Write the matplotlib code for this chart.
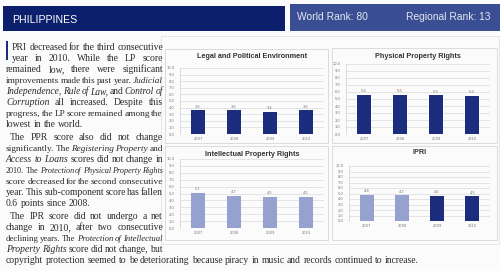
import matplotlib
matplotlib.use('Agg')
import matplotlib.pyplot as plt
from matplotlib.patches import Rectangle
import numpy as np

# scores
years = ['2007', '2008', '2009', '2010']
lp_scores = [3.6, 3.6, 3.4, 3.6]
ppr_scores = [5.6, 5.6, 5.5, 5.4]
ipr_scores = [5.1, 4.7, 4.5, 4.5]
ipri_scores = [4.8, 4.7, 4.6, 4.5]

world_rank = 80
regional_rank = 13

NAVY = '#1b2d7c'
LIGHT = '#95a2cf'
W, H = 500, 271

body = [
    ["PRI decreased for the third consecutive",
     "year in 2010. While the LP score",
     "remained low, there were significant",
     "improvements made this past year. *Judicial*",
     "*Independence*, *Rule of Law*, and *Control of*",
     "*Corruption* all increased. Despite this",
     "progress, the LP score remained among the",
     "lowest in the world."],
    ["The PPR score also did not change",
     "significantly. The *Registering Property* and",
     "*Access to Loans* scores did not change in",
     "2010. The *Protection of Physical Property Rights*",
     "score decreased for the second consecutive",
     "year. This sub-component score has fallen",
     "0.6 points since 2008."],
    ["The IPR score did not undergo a net",
     "change in 2010, after two consecutive",
     "declining years. The *Protection of Intellectual*",
     "*Property Rights* score did not change, but",
     "copyright protection seemed to be deteriorating because piracy in music and records continued to increase."],
]

fig = plt.figure(figsize=(W / 100, H / 100), dpi=100)
fig.patch.set_facecolor('#fbfbfb')
renderer = fig.canvas.get_renderer()

page = fig.add_axes([0, 0, 1, 1])
page.set_xlim(0, W)
page.set_ylim(H, 0)
page.axis('off')


def fig_rect(x0, y0, x1, y1):
    return [x0 / W, 1 - y1 / H, (x1 - x0) / W, (y1 - y0) / H]


# header bands
page.add_patch(Rectangle((3, 6), 282, 25, color='#0c1f6c', lw=0))
page.add_patch(Rectangle((290, 4), 210, 27, color='#3a4f93', lw=0))
page.text(12, 20, 'PHILIPPINES', color='white', fontsize=7.6,
          family='Liberation Sans', va='center')
page.text(297, 17, 'World Rank: %d' % world_rank, color='#e4e7f1', fontsize=7.4,
          family='Liberation Sans', va='center')
page.text(490, 17, 'Regional Rank: %d' % regional_rank, color='#e4e7f1', fontsize=7.4,
          family='Liberation Sans', va='center', ha='right')

# body text, justified word by word
FS = 6.9
TEXT_COL = '#2b2b2b'


def parse(line):
    out = []
    ital = False
    for tok in line.split():
        if tok.startswith('*'):
            ital = True
            tok = tok[1:]
        it = ital
        if '*' in tok:
            tok = tok.replace('*', '')
            ital = False
        out.append((tok, it))
    return out


def draw_line(words, x0, x1, y, justify):
    arts, widths = [], []
    for w, it in words:
        t = page.text(0, y, w, fontsize=FS, family='Liberation Serif',
                      style='italic' if it else 'normal', color=TEXT_COL, va='baseline')
        widths.append(t.get_window_extent(renderer).width)
        arts.append(t)
    space = FS * 100 / 72 * 0.25
    total = sum(widths)
    scale = 1.0
    if justify and len(words) > 1:
        gap = (x1 - x0 - total) / (len(words) - 1)
        if gap < 1.2:
            # squeeze the words a little instead of overlapping
            gap = 1.2
            scale = (x1 - x0 - gap * (len(words) - 1)) / total
    else:
        gap = space
    x = x0
    for t, w in zip(arts, widths):
        if scale < 1:
            t.set_fontsize(FS * scale)
        t.set_x(x)
        x += w * scale + gap


y = 50
for p, para in enumerate(body):
    for i, line in enumerate(para):
        x0 = 6
        if p == 0 and i < 2:
            x0 = 12
        elif i == 0:
            x0 = 10
        last = i == len(para) - 1
        draw_line(parse(line), x0, 163, y, not last)
        y += 11
    y += 2
# drop cap bar
page.add_patch(Rectangle((5.5, 41), 2.2, 19, color=NAVY, lw=0))

# chart frames
page.add_patch(Rectangle((161, 36), 338, 208, fill=False, ec='#e2e2e2', lw=0.6))
for fx, fy, fw, fh in [(165, 49, 163, 94), (332, 48, 165, 95),
                       (165, 146, 163, 94), (332, 146, 165, 94)]:
    page.add_patch(Rectangle((fx, fy), fw, fh, fill=False, ec='#d6d6d6', lw=0.6))


def bar_panel(box, title, ty, values, colors):
    ax = fig.add_axes(fig_rect(*box))
    ax.set_facecolor('none')
    x = np.arange(len(years))
    ax.bar(x, values, width=0.4, color=colors, zorder=3)
    for xi, v in zip(x, values):
        ax.text(xi, v + 0.25, '%.1f' % v, ha='center', va='bottom',
                fontsize=2.6, color='#777777')
    ax.set_xlim(-0.5, 3.5)
    ax.set_ylim(0, 10)
    ax.set_yticks(np.arange(0, 11, 1))
    ax.set_yticklabels(['%.1f' % v for v in np.arange(0, 11, 1)])
    ax.set_xticks(x)
    ax.set_xticklabels(years)
    ax.yaxis.grid(True, color='#dadada', lw=0.5, zorder=0)
    for s in ['top', 'right', 'bottom']:
        ax.spines[s].set_visible(False)
    ax.spines['left'].set_color('#cfcfcf')
    ax.spines['left'].set_linewidth(0.5)
    ax.tick_params(length=0, labelsize=2.6, colors='#777777', pad=2.5)
    ax.tick_params(axis='y', pad=4)
    cx = (box[0] + box[2]) / 2
    page.text(cx, ty, title, ha='center', va='center', fontsize=5.2,
              fontweight='bold', family='Liberation Sans', color='#333333')
    return ax


bar_panel((180, 68, 324, 134), 'Legal and Political Environment', 57, lp_scores, NAVY)
bar_panel((346, 64, 490, 134), 'Physical Property Rights', 56, ppr_scores, NAVY)
bar_panel((180, 159, 324, 228), 'Intellectual Property Rights', 154, ipr_scores, LIGHT)
bar_panel((349, 166, 490, 221), 'IPRI', 152, ipri_scores, [LIGHT, LIGHT, NAVY, NAVY])

fig.savefig('out.png', dpi=100, facecolor=fig.get_facecolor())
